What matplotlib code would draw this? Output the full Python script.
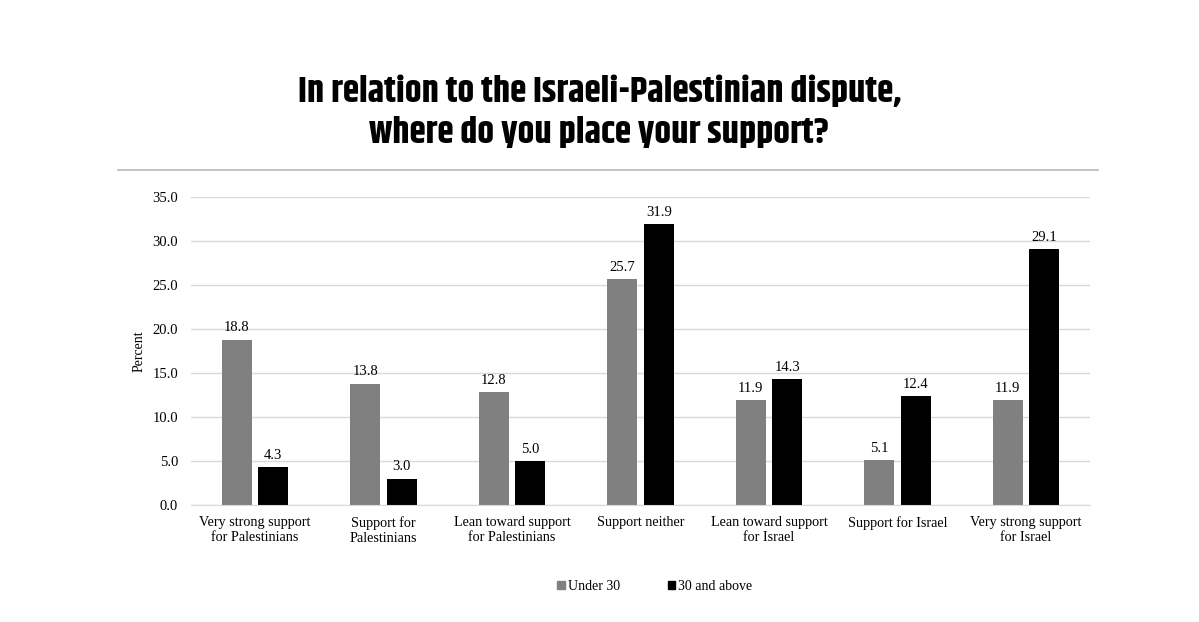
import matplotlib
matplotlib.use("Agg")
import matplotlib.pyplot as plt
import numpy as np
from matplotlib.lines import Line2D
from matplotlib.patches import Patch
from matplotlib import font_manager

categories = ["Very strong support\nfor Palestinians", "Support for\nPalestinians",
              "Lean toward support\nfor Palestinians", "Support neither",
              "Lean toward support\nfor Israel", "Support for Israel",
              "Very strong support\nfor Israel"]
under30 = [18.8, 13.8, 12.8, 25.7, 11.9, 5.1, 11.9]
above30 = [4.3, 3.0, 5.0, 31.9, 14.3, 12.4, 29.1]
series_names = ["Under 30", "30 and above"]
yticks = [0, 5, 10, 15, 20, 25, 30, 35]

names = {f.name for f in font_manager.fontManager.ttflist}
title_font = "Khand" if "Khand" in names else "DejaVu Sans"

serif = "Liberation Serif"
fig = plt.figure(figsize=(11.99, 6.22), dpi=100)
ax = fig.add_axes([190.75 / 1199, 1 - 505 / 622, 899.5 / 1199, 308 / 622])

x = np.arange(len(categories))
w = 0.233
off = 0.142
b1 = ax.bar(x - off, under30, w, color="#808080")
b2 = ax.bar(x + off, above30, w, color="#000000")
for bars, vals in ((b1, under30), (b2, above30)):
    for r, v in zip(bars, vals):
        ax.text(r.get_x() + r.get_width() / 2, v + 0.6, f"{v:.1f}", ha="center", va="bottom",
                fontsize=10.5, family=serif)

ax.set_xlim(-0.5, len(categories) - 0.5)
ax.set_ylim(0, 35)
ax.set_yticks(yticks)
ax.set_yticklabels([f"{t:.1f}" for t in yticks], fontsize=10.5, family=serif)
ax.set_xticks(x)
ax.set_xticklabels(categories, fontsize=10.2, family=serif, linespacing=1.2)
ax.tick_params(axis="x", length=0, pad=8)
ax.tick_params(axis="y", length=0, pad=9)
ax.yaxis.grid(True, color="#d9d9d9", linewidth=1)
ax.set_axisbelow(True)
for s in ["top", "right", "left"]:
    ax.spines[s].set_visible(False)
ax.spines["bottom"].set_color("#d9d9d9")
ax.set_ylabel("Percent", fontsize=10, family=serif, labelpad=5)

fig.text(0.5, 1 - 111 / 622, "In relation to the Israeli-Palestinian dispute,\nwhere do you place your support?",
         ha="center", va="center", fontsize=26.8, fontweight="bold",
         family=title_font, linespacing=1.35)
fig.add_artist(Line2D([118 / 1199, 1098 / 1199], [1 - 170 / 622, 1 - 170 / 622],
                      color="#bfbfbf", linewidth=1.3, transform=fig.transFigure))

handles = [Patch(color="#808080"), Patch(color="#000000")]
fig.legend(handles, series_names, loc="center", bbox_to_anchor=(0.546, 0.057), ncol=2,
           frameon=False, handlelength=0.55, handleheight=0.55, handletextpad=0.2,
           columnspacing=3.45, prop={"family": serif, "size": 10})

fig.savefig("out.png", dpi=100)
